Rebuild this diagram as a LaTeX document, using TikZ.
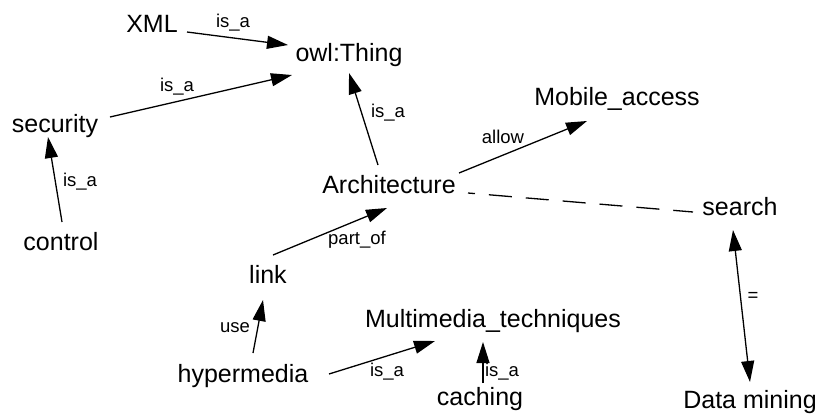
\documentclass[tikz,border=0pt]{standalone}
\usepackage{fontspec}
\setmainfont{Liberation Sans}
\usetikzlibrary{arrows.meta,calc}
\begin{document}
\begin{tikzpicture}[x=1pt,y=-1pt,
  concept/.style={anchor=base,inner sep=0pt,font=\fontsize{25}{30}\selectfont},
  rel/.style={inner sep=0pt,font=\fontsize{18.5}{22}\selectfont},
  arr/.style={line width=1.3pt,-{Triangle[length=21pt,width=13pt]}},
  biarr/.style={line width=1.3pt,{Triangle[length=21pt,width=13pt]}-{Triangle[length=21pt,width=13pt]}},
  dashline/.style={line width=1.3pt,dash pattern=on 23pt off 14pt,dash phase=16pt}]
\useasboundingbox[fill=white] (0,0) rectangle (820,416);
% concepts
\node[concept] (xml) at (152,32) {XML};
\node[concept] (owl) at (349,61) {owl:Thing};
\node[concept] (sec) at (55,132) {security};
\node[concept] (ctl) at (61,250) {control};
\node[concept] (arch) at (389,193) {Architecture};
\node[concept] (mob) at (617,105) {Mobile\_access};
\node[concept] (srch) at (740,215) {search};
\node[concept] (dm) at (750,408) {Data mining};
\node[concept] (link) at (268,283) {link};
\node[concept] (hyp) at (243,382) {hypermedia};
\node[concept] (mm) at (493,327) {Multimedia\_techniques};
\node[concept] (cach) at (480,405) {caching};
% connectors
\draw[arr] ($(xml.base)+(35,0)$) -- ($(owl.base)+(-61,-16)$);
\draw[arr] ($(sec.base)+(55,-15)$) -- ($(owl.base)+(-57,14)$);
\draw[arr] ($(ctl.base)+(1,-28)$) -- ($(sec.base)+(-7,5)$);
\draw[arr] ($(arch.base)+(-11,-28)$) -- ($(owl.base)+(0,12)$);
\draw[arr] ($(arch.base)+(70,-20)$) -- ($(mob.base)+(-30,16)$);
\draw[dashline] ($(arch.base)+(79,0)$) -- ($(srch.base)+(-47,-3)$);
\draw[arr] ($(link.base)+(5,-28)$) -- ($(arch.base)+(-2,15)$);
\draw[arr] ($(hyp.base)+(10,-29)$) -- ($(link.base)+(-5,17)$);
\draw[arr] ($(hyp.base)+(86,-8)$) -- ($(mm.base)+(-58,14)$);
\draw[arr] ($(cach.base)+(3,-22)$) -- ($(mm.base)+(-10,15)$);
\draw[biarr] ($(srch.base)+(-7,15)$) -- ($(dm.base)+(0,-26)$);
% relation labels
\node[rel] (l1) at (233,23) {is\_a};
\node[rel] (l2) at (177,87) {is\_a};
\node[rel] (l3) at (80,182) {is\_a};
\node[rel] (l4) at (388,113) {is\_a};
\node[rel] (l5) at (503,137) {allow};
\node[rel] (l6) at (357,240) {part\_of};
\node[rel] (l7) at (235,328) {use};
\node[rel] (l8) at (387,372) {is\_a};
\node[rel] (l9) at (502,372) {is\_a};
\node[rel] (l10) at (753,297) {=};
\end{tikzpicture}
\end{document}
